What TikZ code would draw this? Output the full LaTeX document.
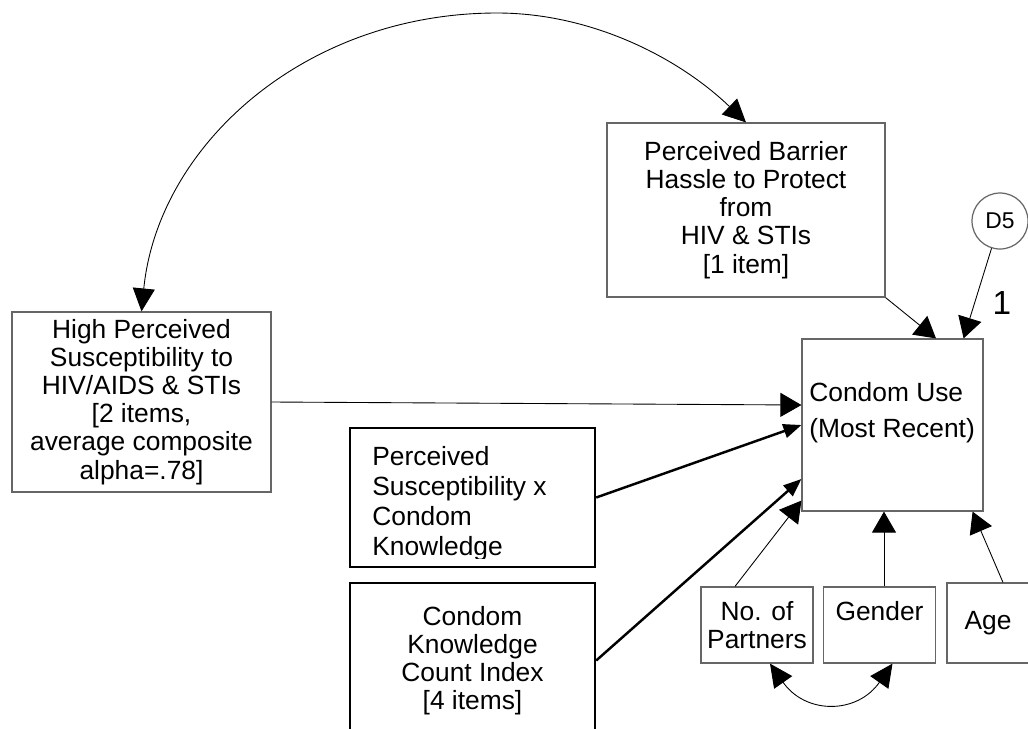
\documentclass[tikz,border=0pt]{standalone}
\usepackage{fontspec}
\setmainfont{Liberation Sans}
\usetikzlibrary{arrows.meta}
\begin{document}
\begin{tikzpicture}[x=0.02cm,y=-0.02cm,
  font=\fontsize{15}{16}\selectfont,
  box/.style={draw=black!60, line width=0.7pt, align=center, inner sep=0pt},
  thickbox/.style={draw=black, line width=1.4pt, align=center, inner sep=0pt},
  arr/.style={-{Triangle[length=0.42cm,width=0.48cm]}, line width=0.5pt},
  thickarr/.style={-{Triangle[length=0.36cm,width=0.28cm]}, line width=1.4pt},
  twoarr/.style={{Triangle[length=0.46cm,width=0.44cm]}-{Triangle[length=0.46cm,width=0.44cm]}, line width=0.5pt}]
\path[use as bounding box, clip] (0,0) rectangle (1028,728);

% predictors
\node[box, minimum width=5.18cm, minimum height=3.6cm] (high) at (141.5,402) {High Perceived\\Susceptibility to\\HIV/AIDS \& STIs\\{[}2 items,\\average composite\\alpha=.78]};
\node[box, minimum width=5.56cm, minimum height=3.48cm] (barrier) at (746,210) {Perceived Barrier\\Hassle to Protect\\from\\HIV \& STIs\\{[}1 item]};
\node[thickbox, minimum width=4.9cm, minimum height=2.78cm] (inter) at (472.5,497.5) {};
\begin{scope}
\clip (inter.north west) rectangle ([yshift=0.2cm]inter.south east);
\node[anchor=north west, align=left, inner sep=0pt, font=\fontsize{15}{17}\selectfont] (intertext) at (372,446) {Perceived\\Susceptibility x\\Condom\\Knowledge};
\end{scope}
\node[thickbox, minimum width=4.9cm, minimum height=3.1cm] (count) at (472.5,660.5) {Condom\\Knowledge\\Count Index\\{[}4 items]};

% outcome
\node[box, minimum width=3.62cm, minimum height=3.44cm] (use) at (892.5,425) {};
\node[anchor=north west, align=left, inner sep=0pt, font=\fontsize{15}{20.5}\selectfont] (usetext) at (809,382) {Condom Use\\(Most Recent)};
\node[draw=black!60, line width=0.7pt, circle, minimum size=1.12cm, inner sep=0pt, font=\fontsize{13}{14}\selectfont] (d5) at (1000,221) {D5};
\node[inner sep=0pt, font=\fontsize{19}{20}\selectfont] (one) at (1002,303) {1};

% controls
\node[box, minimum width=2.24cm, minimum height=1.52cm] (partners) at (757,625) {No. of\\Partners};
\node[box, minimum width=2.24cm, minimum height=1.52cm] (gender) at (879.5,625) {Gender\\\mbox{}};
\node[box, minimum width=2.24cm, minimum height=1.6cm] (age) at (1003,623) {Age\hspace{0.6cm}};

% paths
\draw[arr] (high.east) -- ([yshift=0.4cm]use.west);
\draw[thickarr] (inter.east) -- (use.west);
\draw[thickarr] (count.east) -- ([yshift=-1.08cm]use.west);
\draw[arr] (barrier.south east) -- ([xshift=0.87cm]use.north);
\draw[arr] (d5) -- ([xshift=-0.4cm]use.north east);
\draw[arr] ([xshift=-0.44cm]partners.north) -- ([yshift=0.22cm]use.south west);
\draw[arr] ([xshift=0.09cm]gender.north) -- ([xshift=0.09cm]gender.north |- use.south);
\draw[arr] (age.north) -- ([xshift=-0.22cm]use.south east);

% covariances
\draw[twoarr] (high.north) .. controls (158,146) and (304,13) .. (497,13) .. controls (592,13) and (679,58) .. (barrier.north);
\draw[twoarr] ([xshift=0.26cm]partners.south) to[out=-55,in=-125,looseness=1.3] ([xshift=0.26cm]gender.south);
\end{tikzpicture}
\end{document}
